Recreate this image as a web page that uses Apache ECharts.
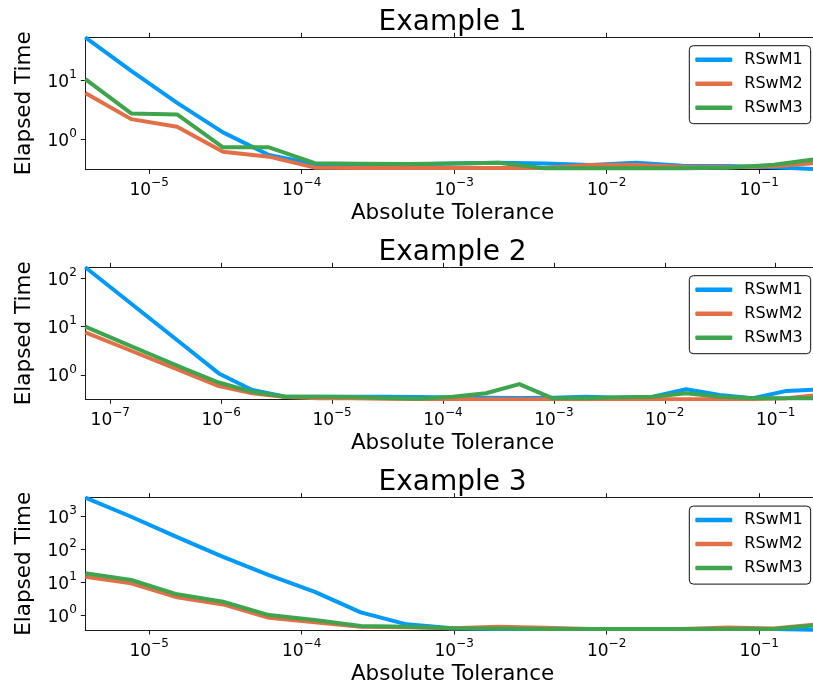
<!DOCTYPE html>
<html>
<head>
<meta charset="utf-8">
<script src="https://cdn.jsdelivr.net/npm/echarts@6/dist/echarts.min.js"></script>
<style>
  html, body { margin: 0; padding: 0; background: #fff; }
  #chart { width: 813px; height: 688px; }
</style>
</head>
<body>
<div id="chart"></div>
<script>
// Absolute tolerances (powers of two)
const tolShort = [
  0.000003814697265625, 0.00000762939453125, 0.0000152587890625, 0.000030517578125,
  0.00006103515625, 0.0001220703125, 0.000244140625, 0.00048828125,
  0.0009765625, 0.001953125, 0.00390625, 0.0078125,
  0.015625, 0.03125, 0.0625, 0.125, 0.25
];
const tolLong = [
  5.9604644775390625e-8, 1.1920928955078125e-7, 2.384185791015625e-7, 4.76837158203125e-7,
  9.5367431640625e-7, 0.0000019073486328125, 0.000003814697265625, 0.00000762939453125,
  0.0000152587890625, 0.000030517578125, 0.00006103515625, 0.0001220703125,
  0.000244140625, 0.00048828125, 0.0009765625, 0.001953125,
  0.00390625, 0.0078125, 0.015625, 0.03125, 0.0625, 0.125, 0.25
];

const seriesNames = ['RSwM1', 'RSwM2', 'RSwM3'];
const seriesColors = ['#009AFA', '#E36F47', '#3EA44E'];

// Example 1 elapsed times
const ex1RSwM1 = [52.5, 14.3, 4.17, 1.33, 0.555, 0.39, 0.385, 0.385, 0.40, 0.41, 0.40, 0.377, 0.41, 0.367, 0.363, 0.345, 0.319];
const ex1RSwM2 = [6.12, 2.22, 1.65, 0.63, 0.52, 0.34, 0.335, 0.335, 0.335, 0.335, 0.335, 0.377, 0.377, 0.353, 0.35, 0.36, 0.41];
const ex1RSwM3 = [10.4, 2.77, 2.66, 0.746, 0.746, 0.405, 0.395, 0.39, 0.40, 0.41, 0.332, 0.332, 0.332, 0.332, 0.34, 0.38, 0.48];

// Example 2 elapsed times
const ex2RSwM1 = [169, 47.9, 13.6, 3.84, 1.08, 0.49, 0.356, 0.356, 0.356, 0.356, 0.35, 0.345, 0.34, 0.335, 0.34, 0.356, 0.34, 0.356, 0.51, 0.385, 0.33, 0.47, 0.50];
const ex2RSwM2 = [7.6, 4.03, 2.12, 1.12, 0.59, 0.42, 0.35, 0.33, 0.33, 0.325, 0.318, 0.316, 0.315, 0.315, 0.315, 0.315, 0.315, 0.315, 0.315, 0.315, 0.318, 0.33, 0.39];
const ex2RSwM3 = [10, 5.1, 2.6, 1.32, 0.70, 0.45, 0.356, 0.356, 0.35, 0.335, 0.325, 0.356, 0.42, 0.65, 0.33, 0.33, 0.346, 0.356, 0.42, 0.356, 0.33, 0.33, 0.33];

// Example 3 elapsed times
const ex3RSwM1 = [3770, 1000, 240, 61, 17, 5.3, 1.27, 0.55, 0.415, 0.40, 0.40, 0.40, 0.40, 0.40, 0.40, 0.40, 0.37];
const ex3RSwM2 = [15.2, 9.6, 3.6, 2.2, 0.87, 0.63, 0.465, 0.45, 0.415, 0.465, 0.43, 0.40, 0.40, 0.40, 0.44, 0.41, 0.56];
const ex3RSwM3 = [19.3, 12.1, 4.45, 2.65, 1.05, 0.74, 0.49, 0.465, 0.415, 0.41, 0.40, 0.40, 0.40, 0.40, 0.40, 0.40, 0.53];

// Tick positions (decades)
const xTicksShort = [1e-5, 1e-4, 1e-3, 1e-2, 1e-1];
const xTicksLong = [1e-7, 1e-6, 1e-5, 1e-4, 1e-3, 1e-2, 1e-1];
const yTicks1 = [1, 10];
const yTicks2 = [1, 10, 100];
const yTicks3 = [1, 10, 100, 1000];

const titles = ['Example 1', 'Example 2', 'Example 3'];
const xLabel = 'Absolute Tolerance';
const yLabel = 'Elapsed Time';

const panels = [
  { tol: tolShort, ys: [ex1RSwM1, ex1RSwM2, ex1RSwM3], xTicks: xTicksShort, yTicks: yTicks1, top: 37.3, height: 132 },
  { tol: tolLong,  ys: [ex2RSwM1, ex2RSwM2, ex2RSwM3], xTicks: xTicksLong,  yTicks: yTicks2, top: 267.3, height: 132 },
  { tol: tolShort, ys: [ex3RSwM1, ex3RSwM2, ex3RSwM3], xTicks: xTicksShort, yTicks: yTicks3, top: 497.7, height: 132.3 }
];

const FONT = 'DejaVu Sans';
const INK = '#000';
const SPINE = '#1a1a1a';
const PLOT_LEFT = 85.3;
const PLOT_RIGHT_EDGE = 819.8;

function powLabel(v) {
  const e = Math.round(Math.log10(v));
  const s = e < 0 ? '\u2212' + (-e) : String(e);
  return '{b|10}{s|' + s + '}';
}

const richPow = {
  b: { fontFamily: FONT, fontSize: 17, color: INK, padding: [4, 0, 0, 0] },
  s: { fontFamily: FONT, fontSize: 12, color: INK, padding: [0, 0, 11, 0] }
};

const grid = [], xAxis = [], yAxis = [], series = [], legend = [], graphic = [];

panels.forEach((p, gi) => {
  grid.push({
    left: PLOT_LEFT, top: p.top, width: PLOT_RIGHT_EDGE - PLOT_LEFT, height: p.height,
    containLabel: false, outerBoundsMode: 'none'
  });

  const allY = [].concat(...p.ys);
  const yMin = Math.min(...allY), yMax = Math.max(...allY);
  const xMin = Math.min(...p.tol), xMax = Math.max(...p.tol);

  // bottom axis with labels
  xAxis.push({
    type: 'log', logBase: 10, gridIndex: gi, position: 'bottom',
    min: xMin, max: xMax,
    splitLine: { show: false },
    axisLine: { show: true, lineStyle: { color: SPINE, width: 1 } },
    axisTick: { show: true, inside: false, length: 4.5, customValues: p.xTicks, lineStyle: { color: SPINE, width: 1 } },
    minorTick: { show: false },
    axisLabel: {
      show: true, margin: 8, customValues: p.xTicks,
      formatter: powLabel, rich: richPow
    },
    name: xLabel, nameLocation: 'middle', nameGap: 33,
    nameTextStyle: { fontFamily: FONT, fontSize: 21.5, color: INK }
  });
  // top spine
  xAxis.push({
    type: 'log', logBase: 10, gridIndex: gi, position: 'top',
    min: xMin, max: xMax,
    splitLine: { show: false },
    axisLine: { show: true, lineStyle: { color: SPINE, width: 1 } },
    axisTick: { show: true, inside: false, length: 4.5, customValues: p.xTicks, lineStyle: { color: SPINE, width: 1 } },
    axisLabel: { show: false }
  });

  yAxis.push({
    type: 'log', logBase: 10, gridIndex: gi, position: 'left',
    min: yMin, max: yMax,
    splitLine: { show: false },
    axisLine: { show: true, lineStyle: { color: SPINE, width: 1 } },
    axisTick: { show: true, inside: false, length: 4.5, customValues: p.yTicks, lineStyle: { color: SPINE, width: 1 } },
    minorTick: { show: false },
    axisLabel: {
      show: true, margin: 8.5, customValues: p.yTicks,
      formatter: powLabel, rich: richPow
    },
    name: yLabel, nameLocation: 'middle', nameGap: 50,
    nameTextStyle: { fontFamily: FONT, fontSize: 21.5, color: INK }
  });

  p.ys.forEach((vals, si) => {
    series.push({
      type: 'line', name: seriesNames[si],
      xAxisIndex: gi * 2, yAxisIndex: gi,
      data: p.tol.map((t, k) => [t, vals[k]]),
      showSymbol: false, symbol: 'none',
      lineStyle: { color: seriesColors[si], width: 4, join: 'round' },
      itemStyle: { color: seriesColors[si] },
      clip: true, z: 2 + si
    });
  });

  legend.push({
    data: seriesNames, orient: 'vertical',
    left: 689.3, top: p.top + 8.4,
    padding: [6, 8, 8, 6],
    itemWidth: 37, itemHeight: 4.5, itemGap: 8,
    icon: 'roundRect',
    selectedMode: false,
    backgroundColor: '#fff', borderColor: '#111', borderWidth: 1, borderRadius: 4,
    textStyle: { fontFamily: FONT, fontSize: 16, color: INK, lineHeight: 16, padding: [0, 0, 0, 7] }
  });

  graphic.push({
    type: 'text',
    x: (PLOT_LEFT + PLOT_RIGHT_EDGE) / 2, y: p.top - 15,
    style: {
      text: titles[gi], fontFamily: FONT, fontSize: 28, fill: INK,
      textAlign: 'center', textVerticalAlign: 'middle'
    },
    z: 10
  });
});

const chart = echarts.init(document.getElementById('chart'), null, { renderer: 'canvas' });
chart.setOption({
  animation: false,
  backgroundColor: '#fff',
  textStyle: { fontFamily: FONT },
  grid, xAxis, yAxis, series, legend, graphic
});
</script>
</body>
</html>
